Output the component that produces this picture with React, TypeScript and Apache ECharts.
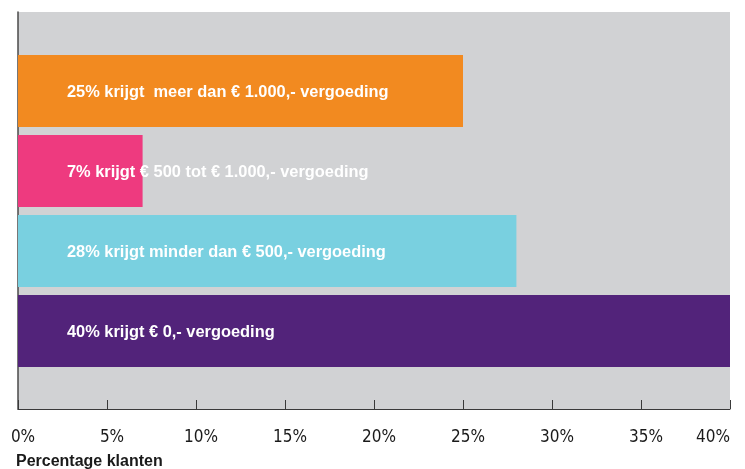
import React, { useEffect, useRef } from "react";
import * as echarts from "echarts";

const categories = ["meer dan € 1.000", "€ 500 tot € 1.000", "minder dan € 500", "€ 0"];
const values = [25, 7, 28, 40];
const barLabels = [
  "25% krijgt  meer dan € 1.000,- vergoeding",
  "7% krijgt € 500 tot € 1.000,- vergoeding",
  "28% krijgt minder dan € 500,- vergoeding",
  "40% krijgt € 0,- vergoeding",
];
const barColors = ["#F28A20", "#EE3A7F", "#79D0E0", "#52237A"];
const xTicks = [0, 5, 10, 15, 20, 25, 30, 35, 40];
const axisName = "Percentage klanten";

export default function App() {
  const ref = useRef<HTMLDivElement>(null);
  useEffect(() => {
    if (!ref.current) return;
    const chart = echarts.init(ref.current, null, { renderer: "svg" });
    const font = "'Liberation Sans', Arial, sans-serif";
    const narrow = "'Liberation Sans Narrow', 'DejaVu Sans Condensed', 'Liberation Sans', sans-serif";
    chart.setOption({
      animation: false,
      grid: [
        { left: 18, right: 15, top: 51, height: 320, show: false },
        {
          left: 18,
          right: 15,
          top: 12,
          height: 397,
          show: true,
          backgroundColor: "#D1D2D4",
          borderWidth: 0,
          z: 0,
        },
      ],
      xAxis: [
        { gridIndex: 0, type: "value", min: 0, max: 40, show: false },
        {
          gridIndex: 1,
          type: "value",
          min: xTicks[0],
          max: xTicks[xTicks.length - 1],
          interval: 5,
          axisLine: { show: true, lineStyle: { color: "#3a3a3a", width: 1 } },
          axisTick: { show: true, inside: true, length: 9, lineStyle: { color: "#3a3a3a", width: 1 } },
          splitLine: { show: false },
          axisLabel: {
            formatter: "{value}%",
            margin: 18,
            fontSize: 17,
            color: "#1a1a1a",
            fontFamily: narrow,
            padding: [0, 0, 0, 10],
            alignMaxLabel: "right",
          },
        },
      ],
      yAxis: [
        { gridIndex: 0, type: "category", data: categories, inverse: true, show: false },
        {
          gridIndex: 1,
          type: "value",
          min: 0,
          max: 1,
          axisLine: { show: true, lineStyle: { color: "#4a4a4a", width: 1.5 } },
          axisTick: { show: false },
          axisLabel: { show: false },
          splitLine: { show: false },
        },
      ],
      series: [
        {
          type: "bar",
          xAxisIndex: 0,
          yAxisIndex: 0,
          barWidth: 72,
          z: 2,
          data: values.map((v, i) => ({ value: v, itemStyle: { color: barColors[i] } })),
          label: {
            show: true,
            position: [49, "50%"],
            verticalAlign: "middle",
            align: "left",
            formatter: (p: any) => barLabels[p.dataIndex],
            color: "#ffffff",
            fontWeight: "bold",
            fontSize: 16.4,
            fontFamily: font,
          },
        },
      ],
      graphic: [
        {
          type: "text",
          left: 16,
          top: 452,
          style: {
            text: axisName,
            fill: "#1a1a1a",
            font: `bold 16px ${font}`,
          },
        },
      ],
    });
    return () => chart.dispose();
  }, []);
  return (
    <div
      ref={ref}
      style={{ position: "fixed", left: 0, top: 0, width: 745, height: 469 }}
    />
  );
}
